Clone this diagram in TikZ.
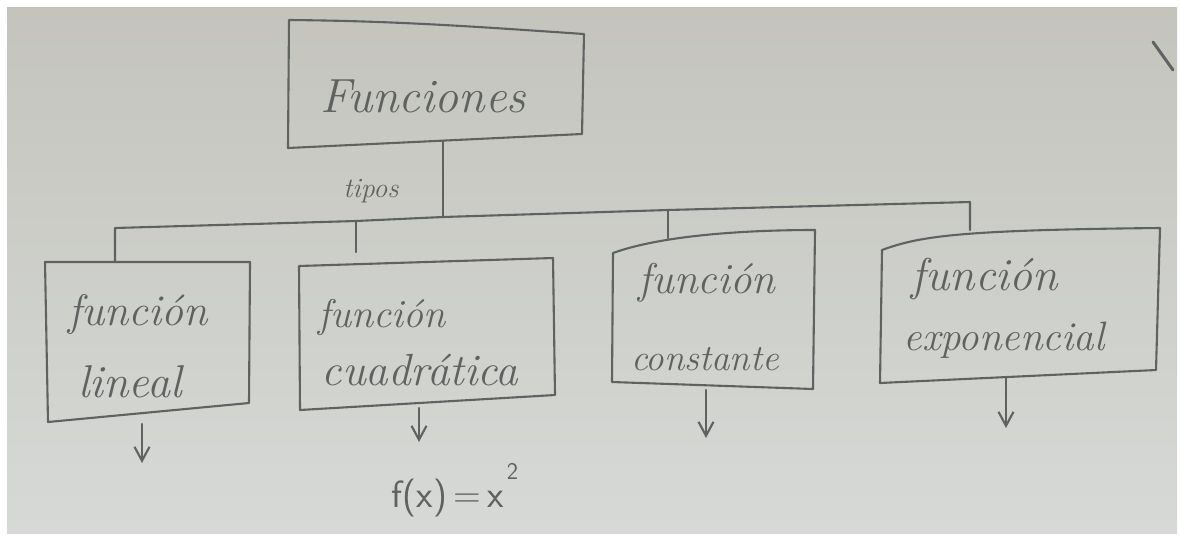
\documentclass[tikz,border=0pt]{standalone}
\usepackage{fontspec}
\usetikzlibrary{arrows.meta}
\definecolor{ink}{HTML}{5E6261}
\definecolor{paperA}{HTML}{C4C4BD}
\definecolor{paperB}{HTML}{D6D9D6}
\tikzset{
  pencil/.style={draw=ink, line width=2.1pt, line cap=round, line join=round},
  lbl/.style={font=\fontsize{#1}{#1}\selectfont\itshape, text=ink, inner sep=0pt, anchor=base},
  arrowline/.style={pencil, -{Straight Barb[length=14pt,width=15pt]}},
}
\begin{document}
\begin{tikzpicture}[x=1pt,y=-1pt]
\useasboundingbox (0,0) rectangle (1180,542);
\fill[white] (0,0) rectangle (1180,542);
\shade[top color=paperA, bottom color=paperB] (7,7) rectangle (1177,533);

% ---------- Funciones box ----------
\coordinate (f1) at (289,20);
\coordinate (f2) at (584,34);
\coordinate (f3) at (582,134);
\coordinate (f4) at (288,148);
\draw[pencil] (f1) .. controls (400,21) and (480,27) .. (f2) -- (f3) -- (f4) -- cycle;
\node[lbl=48] (fun) at (423,112) {Funciones};

% ---------- tipos ----------
\node[lbl=28] (tip) at (371,197) {tipos};

% ---------- child boxes ----------
% lineal
\coordinate (l1) at (45,262);
\coordinate (l2) at (250,262);
\coordinate (l3) at (249,403);
\coordinate (l4) at (48,422);
\draw[pencil] (l1) -- (l2) -- (l3) -- (l4) -- cycle;
\node[lbl=44] (lin1) at (138,325) {función};
\node[lbl=46] (lin2) at (130,397) {lineal};

% cuadratica
\coordinate (c1) at (299,266);
\coordinate (c2) at (553,258);
\coordinate (c3) at (555,395);
\coordinate (c4) at (300,410);
\draw[pencil] (c1) -- (c2) -- (c3) -- (c4) -- cycle;
\node[lbl=40] (cua1) at (382,327) {función};
\node[lbl=45] (cua2) at (420,385) {cuadrática};

% constante
\coordinate (k1) at (613,253);
\coordinate (k2) at (815,230);
\coordinate (k3) at (813,389);
\coordinate (k4) at (612,382);
\draw[pencil] (k1) .. controls (660,236) and (740,230) .. (k2) -- (k3) -- (k4) -- cycle;
\node[lbl=43] (con1) at (707,293) {función};
\node[lbl=37] (con2) at (705,370) {constante};

% exponencial
\coordinate (e1) at (882,250);
\coordinate (e2) at (1160,228);
\coordinate (e3) at (1156,370);
\coordinate (e4) at (880,383);
\draw[pencil] (e1) .. controls (920,236) and (960,230) .. (e2) -- (e3) -- (e4) -- cycle;
\node[lbl=46] (exp1) at (985,290) {función};
\node[lbl=41] (exp2) at (1004,350) {exponencial};

% ---------- connectors ----------
\coordinate (fb) at (443,141);
\coordinate (j0) at (443,217);
\coordinate (jl) at (115,228);
\coordinate (jc) at (356,221);
\coordinate (jk) at (668,210);
\coordinate (je) at (970,202);
\coordinate (lt) at (115,262);
\coordinate (ct) at (356,252);
\coordinate (kt) at (668,238);
\coordinate (et) at (970,230);
\draw[pencil] (fb) -- (j0);
\draw[pencil] (j0) -- (jc) -- (jl) -- (lt);
\draw[pencil] (jc) -- (ct);
\draw[pencil] (j0) -- (jk) -- (je) -- (et);
\draw[pencil] (jk) -- (kt);

% ---------- arrows ----------
\coordinate (la) at (142,424);
\coordinate (lb) at (142,463);
\coordinate (ca) at (419,408);
\coordinate (cb) at (419,442);
\coordinate (ka) at (706,390);
\coordinate (kb) at (706,438);
\coordinate (ea) at (1006,378);
\coordinate (eb) at (1006,428);
\draw[arrowline] (la) -- (lb);
\draw[arrowline] (ca) -- (cb);
\draw[arrowline] (ka) -- (kb);
\draw[arrowline] (ea) -- (eb);

% ---------- formula ----------
\node[font=\fontsize{38}{38}\selectfont\sffamily, text=ink, inner sep=0pt, anchor=base] (fx) at (455,507)
  {f(x)\,=\,x\hspace{3pt}\raisebox{0.72em}{\fontsize{24}{24}\selectfont 2}};

% stray pencil mark
\coordinate (s1) at (1153,42);
\coordinate (s2) at (1173,70);
\draw[ink, line width=3pt, line cap=round] (s1) -- (s2);
\end{tikzpicture}
\end{document}
